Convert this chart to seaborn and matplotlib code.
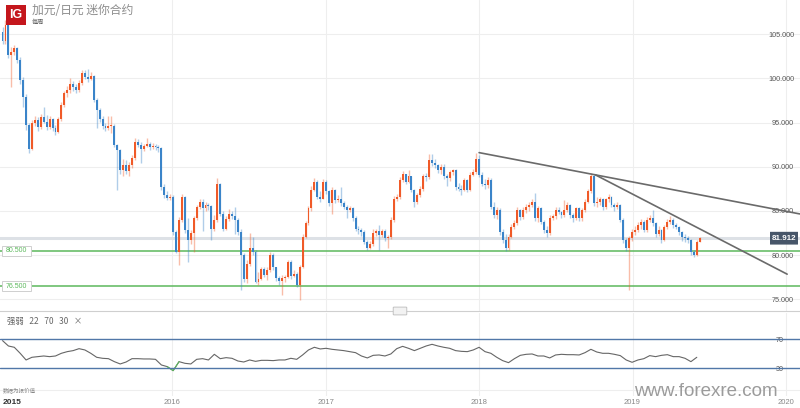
import numpy as np
import pandas as pd
import matplotlib
matplotlib.use('Agg')
import matplotlib.pyplot as plt
import matplotlib.dates as mdates
import matplotlib.transforms as mtransforms
from matplotlib.patches import Rectangle, FancyBboxPatch
import seaborn as sns

# weekly CAD/JPY candles (open = previous close)
week_start = '2014-11-24'
first_open = 105.3
close = [104.2, 106.0, 102.6, 103.0, 103.4, 102.1, 99.8, 97.9, 94.7, 92.0,
         94.9, 95.3, 94.5, 95.6, 95.1, 94.5, 95.4, 94.4, 93.9, 95.4,
         97.0, 98.3, 98.7, 99.4, 99.0, 98.7, 99.5, 100.6, 100.2, 99.9,
         100.3, 97.6, 96.4, 95.4, 94.6, 94.4, 94.6, 94.6, 92.5, 91.9,
         89.6, 90.2, 89.5, 90.2, 91.0, 92.8, 92.5, 92.0, 92.4, 92.6,
         92.2, 92.4, 92.2, 92.1, 87.7, 86.8, 86.5, 86.6, 82.6, 80.4,
         84.0, 86.6, 82.8, 81.7, 82.5, 84.2, 85.4, 86.0, 85.3, 85.7,
         85.6, 83.0, 84.0, 88.1, 84.7, 83.0, 84.1, 84.7, 84.4, 84.0,
         82.6, 80.0, 77.3, 79.0, 80.8, 80.3, 77.0, 77.3, 78.4, 77.8,
         78.3, 80.0, 78.6, 77.4, 77.1, 77.4, 77.5, 79.2, 77.6, 77.9,
         76.6, 78.7, 82.1, 83.6, 85.3, 87.4, 88.3, 86.6, 86.4, 88.3,
         87.2, 85.9, 87.4, 86.2, 86.4, 85.9, 85.5, 85.1, 85.3, 84.2,
         83.0, 82.8, 82.6, 81.5, 80.8, 81.2, 82.5, 82.7, 82.3, 82.7,
         81.9, 82.0, 84.0, 86.4, 86.6, 88.5, 89.2, 88.3, 88.9, 87.4,
         86.0, 86.8, 87.5, 88.9, 88.8, 90.8, 90.4, 90.2, 89.6, 90.0,
         88.9, 88.7, 89.4, 89.6, 87.7, 87.5, 87.4, 88.5, 87.4, 89.1,
         89.4, 90.9, 89.1, 88.1, 87.9, 88.5, 85.5, 84.5, 85.1, 82.6,
         81.7, 80.8, 82.1, 83.2, 83.6, 85.1, 84.3, 85.1, 85.5, 85.7,
         86.0, 84.2, 85.3, 83.8, 82.8, 82.5, 84.2, 84.4, 85.1, 84.9,
         84.5, 85.1, 85.7, 84.5, 84.2, 85.3, 84.2, 85.1, 86.0, 87.2,
         88.9, 85.9, 86.0, 86.3, 85.4, 86.3, 86.6, 85.7, 85.4, 85.7,
         84.0, 81.7, 80.8, 81.9, 82.6, 82.8, 83.4, 83.8, 82.8, 84.0,
         84.2, 83.6, 82.4, 82.8, 81.7, 83.2, 83.8, 84.0, 83.4, 83.2,
         82.6, 82.0, 81.9, 81.7, 80.3, 80.0, 81.5, 81.9]
high = [105.8, 106.6, 106.3, 103.6, 103.8, 103.6, 102.4, 100.2, 98.2, 95.0,
        95.3, 95.8, 95.6, 96.0, 96.8, 95.9, 95.8, 95.5, 94.7, 95.6,
        97.3, 98.6, 99.1, 100.0, 99.7, 99.4, 99.8, 101.0, 100.9, 101.1,
        100.7, 100.4, 97.8, 96.6, 95.8, 95.0, 95.7, 95.8, 94.8, 92.6,
        92.0, 90.9, 90.8, 90.5, 91.3, 93.2, 93.1, 92.8, 92.6, 93.2,
        92.8, 92.7, 92.6, 92.5, 92.2, 88.0, 87.2, 86.9, 86.8, 82.8,
        84.3, 86.9, 86.7, 84.2, 82.8, 84.4, 85.7, 86.3, 86.4, 86.0,
        85.9, 85.7, 84.5, 88.7, 88.2, 85.0, 84.4, 85.2, 85.0, 85.4,
        84.2, 83.0, 80.2, 79.4, 82.5, 82.1, 80.6, 78.1, 78.6, 78.6,
        78.6, 80.3, 80.2, 78.7, 77.6, 77.8, 77.8, 79.4, 79.5, 78.3,
        78.1, 78.9, 82.4, 83.9, 85.6, 87.8, 88.7, 88.5, 87.3, 88.6,
        88.5, 87.4, 87.7, 87.5, 86.8, 87.7, 86.1, 85.7, 85.6, 85.4,
        84.4, 83.3, 83.1, 82.8, 81.7, 81.6, 82.9, 83.0, 83.4, 83.0,
        82.9, 82.3, 84.3, 86.7, 86.9, 88.8, 89.5, 89.2, 89.6, 89.0,
        87.5, 87.0, 87.8, 89.2, 89.3, 91.5, 91.4, 90.9, 90.3, 90.3,
        90.3, 89.2, 89.6, 89.8, 89.7, 88.2, 87.9, 88.7, 88.6, 89.4,
        89.7, 91.6, 91.3, 89.4, 88.6, 88.8, 88.7, 86.0, 85.5, 85.3,
        82.9, 82.4, 82.4, 83.5, 84.0, 85.4, 85.2, 85.4, 85.8, 86.0,
        86.3, 87.0, 85.6, 85.4, 84.0, 83.3, 84.5, 84.7, 85.4, 85.5,
        85.0, 86.2, 86.0, 85.8, 84.8, 85.5, 85.5, 85.3, 86.3, 87.5,
        89.3, 89.1, 86.6, 86.6, 86.5, 86.5, 86.9, 86.7, 85.9, 86.0,
        85.8, 84.2, 81.9, 82.2, 82.9, 83.3, 83.7, 84.1, 84.0, 84.3,
        84.5, 85.1, 83.8, 83.3, 83.0, 83.4, 84.1, 84.4, 84.2, 83.6,
        83.3, 82.7, 82.4, 82.2, 81.8, 80.6, 81.7, 82.0]
low = [103.9, 103.9, 102.3, 99.0, 102.6, 101.8, 99.4, 96.8, 94.2, 91.6,
       91.9, 94.6, 94.1, 94.3, 94.9, 94.2, 94.3, 94.1, 93.6, 93.8,
       95.2, 96.8, 97.9, 98.4, 98.6, 98.3, 98.5, 99.3, 99.9, 99.6,
       99.8, 97.3, 94.4, 95.1, 94.3, 94.1, 94.2, 93.8, 92.2, 87.4,
       89.2, 89.0, 89.2, 88.9, 89.9, 90.8, 92.2, 90.4, 91.8, 92.2,
       91.9, 92.0, 91.9, 91.7, 87.4, 86.5, 86.2, 86.2, 82.3, 80.2,
       78.9, 83.8, 82.5, 79.2, 81.3, 80.4, 84.0, 85.2, 82.7, 85.0,
       85.1, 81.7, 82.7, 83.8, 84.4, 82.7, 82.8, 83.9, 84.1, 82.4,
       82.3, 76.0, 76.9, 76.8, 78.8, 80.0, 76.8, 76.6, 77.2, 77.5,
       77.2, 78.1, 78.3, 77.1, 76.6, 75.5, 77.0, 77.4, 77.3, 77.5,
       76.4, 74.9, 78.5, 81.9, 83.4, 85.0, 87.2, 86.3, 86.0, 86.3,
       86.9, 85.6, 84.7, 85.9, 86.0, 85.6, 85.2, 84.2, 84.9, 83.9,
       82.7, 82.4, 82.2, 81.2, 80.6, 80.7, 81.0, 82.2, 80.6, 82.0,
       81.6, 80.8, 81.8, 83.7, 86.1, 86.3, 88.3, 88.0, 88.2, 87.1,
       85.5, 85.8, 86.6, 87.3, 88.4, 88.6, 90.1, 89.9, 89.3, 89.2,
       88.6, 87.8, 88.4, 89.1, 87.4, 87.3, 86.8, 87.2, 87.1, 87.2,
       88.9, 89.2, 88.8, 87.8, 87.5, 87.6, 85.2, 84.2, 84.1, 82.3,
       81.4, 80.5, 80.6, 81.9, 82.9, 83.4, 84.0, 84.1, 84.8, 85.0,
       85.4, 83.9, 83.7, 83.5, 82.5, 82.1, 82.3, 84.0, 84.1, 84.6,
       84.2, 84.3, 84.9, 84.2, 83.8, 84.0, 83.9, 83.9, 84.9, 85.9,
       87.0, 85.6, 85.4, 85.7, 85.1, 85.2, 86.0, 85.4, 85.0, 85.2,
       83.8, 81.4, 80.5, 76.0, 81.6, 82.3, 82.6, 82.9, 82.6, 82.6,
       83.7, 83.3, 82.1, 82.2, 81.4, 81.6, 83.0, 83.5, 83.1, 82.9,
       82.3, 81.6, 81.5, 81.4, 80.0, 79.8, 79.9, 81.5]

# RSI(22) read every second week
rsi_values = [68.2, 60.8, 59.0, 50.7, 41.5, 45.2, 46.1, 47.0, 46.1, 47.0,
              50.7, 53.0, 54.4, 57.1, 55.3, 50.7, 45.2, 43.8, 43.3, 39.2,
              36.0, 38.7, 43.3, 43.3, 42.9, 42.9, 42.4, 34.6, 32.3, 26.8,
              39.2, 36.9, 36.0, 42.4, 43.3, 41.5, 49.3, 43.3, 44.7, 43.8,
              40.1, 38.7, 41.5, 39.6, 41.0, 41.0, 40.6, 41.5, 41.5, 43.8,
              42.4, 48.4, 55.3, 59.0, 56.7, 57.6, 56.2, 55.3, 54.4, 53.0,
              51.6, 47.0, 44.3, 47.9, 48.4, 47.0, 49.8, 57.1, 60.3, 57.6,
              54.4, 57.6, 60.8, 63.1, 60.8, 59.0, 57.6, 54.4, 53.4, 53.0,
              55.3, 59.0, 53.0, 50.7, 45.2, 40.6, 37.8, 43.3, 47.9, 49.3,
              49.8, 47.0, 47.0, 44.3, 48.4, 49.3, 48.8, 48.8, 48.4, 51.6,
              56.2, 52.5, 50.7, 50.7, 49.3, 47.5, 41.5, 38.3, 41.5, 43.3,
              47.5, 46.1, 47.9, 48.8, 46.1, 46.1, 43.8, 39.2, 45.2]

support_levels = [80.5, 76.5]
last_price = 81.912
trend_lines = [(('2018-01-01', 91.6), ('2020-02-03', 84.66)),
               (('2018-10-04', 89.1), ('2020-01-04', 77.84))]
price_ticks = [75, 80, 85, 90, 95, 100, 105]
year_labels = ['2016', '2017', '2018', '2019', '2020']
rsi_levels = [70, 30]

up_color = '#f05a28'
down_color = '#3a84c9'

sns.set_theme(style='white')
plt.rcParams['font.family'] = ['Liberation Sans', 'Noto Sans CJK SC', 'DejaVu Sans']
cjk = ['Noto Sans CJK SC', 'DejaVu Sans']

df = pd.DataFrame({'close': close, 'high': high, 'low': low})
df['date'] = pd.date_range(week_start, periods=len(df), freq='7D')
df['open'] = [first_open] + close[:-1]
df['high'] = df[['high', 'open', 'close']].max(axis=1)
df['low'] = df[['low', 'open', 'close']].min(axis=1)
df['up'] = df['close'] >= df['open']

rsi = pd.DataFrame({'date': pd.date_range(week_start, periods=len(rsi_values), freq='14D'),
                    'rsi': rsi_values})

W, H = 800, 408
fig = plt.figure(figsize=(8, 4.08), dpi=100)


def fy(py):
    return 1 - py / H


ax = fig.add_axes([0, fy(311), 1, fy(0) - fy(311)])
ax_rsi = fig.add_axes([0, fy(396), 1, fy(313) - fy(396)])

px_per_day = 153.5 / 365.25
x_left = mdates.date2num(pd.Timestamp('2015-01-01')) - 18.5 / px_per_day
x_right = x_left + W / px_per_day
year_nums = [mdates.date2num(pd.Timestamp(y + '-01-01')) for y in year_labels]

# candles
x = mdates.date2num(df['date'].values)
colors = np.where(df['up'], up_color, down_color)
ax.vlines(x, df['low'], df['high'], colors=colors, alpha=0.4, linewidth=1.0, zorder=3)
body_bottom = np.minimum(df['open'], df['close'])
body_h = np.maximum((df['close'] - df['open']).abs(), 0.12)
ax.bar(x, body_h, bottom=body_bottom, width=4.6, color=colors, linewidth=0, zorder=4)

# level lines
ax.axhline(last_price, color='#dde1e6', lw=2.2, zorder=1)
for lvl in support_levels:
    ax.axhline(lvl, color='#5cb85c', lw=1.1, zorder=2)

for (d1, p1), (d2, p2) in trend_lines:
    ax.plot([mdates.date2num(pd.Timestamp(d1)), mdates.date2num(pd.Timestamp(d2))], [p1, p2],
            color='#6a6a6a', lw=1.2, zorder=5, solid_capstyle='round')

blend = mtransforms.blended_transform_factory(ax.transAxes, ax.transData)
for lvl in support_levels:
    ax.add_patch(Rectangle((0.002, lvl - 0.57), 0.037, 1.14, transform=blend,
                           facecolor='white', edgecolor='#cfcfcf', lw=0.7, zorder=6))
    ax.text(0.0205, lvl, f'{lvl:.3f}', transform=blend, ha='center', va='center',
            fontsize=5, color='#5cb85c', zorder=7)

ax.add_patch(FancyBboxPatch((0.9645, last_price - 0.72), 0.031, 1.44, transform=blend,
                            boxstyle='round,pad=0.002,rounding_size=0.004',
                            facecolor='#475669', edgecolor='none', zorder=6))
ax.text(0.98, last_price - 0.05, f'{last_price:.3f}', transform=blend, ha='center', va='center',
        fontsize=5.8, color='white', weight='bold', zorder=7)

ax.set_xlim(x_left, x_right)
ax.set_ylim(73.67, 108.88)
ax.set_xticks(year_nums)
ax.set_yticks(price_ticks, labels=[f'{p:.3f}' for p in price_ticks], ha='right')
ax.yaxis.tick_right()
ax.tick_params(axis='y', length=0, pad=-4.3, labelsize=5.2, labelcolor='#555555')
ax.tick_params(axis='x', length=0, labelbottom=False)
ax.grid(True, color='#eeeeee', lw=0.8)
ax.set_axisbelow(True)
for s in ['top', 'left', 'right']:
    ax.spines[s].set_visible(False)
ax.spines['bottom'].set_color('#cfcfcf')
ax.spines['bottom'].set_linewidth(0.8)

# RSI panel
sns.lineplot(data=rsi, x='date', y='rsi', ax=ax_rsi, color='#666666', lw=0.8)
low_mask = rsi['rsi'] < 30
near = low_mask | low_mask.shift(1, fill_value=False) | low_mask.shift(-1, fill_value=False)
ax_rsi.plot(mdates.date2num(rsi.loc[near, 'date'].values), rsi.loc[near, 'rsi'],
            color='#5cb85c', lw=0.8)
for lvl in rsi_levels:
    ax_rsi.axhline(lvl, color='#5177a8', lw=1.0)
ax_rsi.axhline(0, color='#eeeeee', lw=0.8)

ax_rsi.set_xlim(x_left, x_right)
ax_rsi.set_ylim(-8.2, 106.3)
ax_rsi.set_xticks(year_nums, labels=year_labels)
ax_rsi.set_yticks(rsi_levels, labels=[str(v) for v in rsi_levels], ha='right')
ax_rsi.yaxis.tick_right()
ax_rsi.tick_params(axis='y', length=0, pad=-11.5, labelsize=5.2, labelcolor='#555555')
ax_rsi.tick_params(axis='x', length=0, pad=2.5, labelsize=5.5, labelcolor='#888888')
ax_rsi.grid(True, axis='x', color='#eeeeee', lw=0.8)
ax_rsi.set_axisbelow(True)
ax_rsi.set_xlabel('')
ax_rsi.set_ylabel('')
for s in ax_rsi.spines.values():
    s.set_visible(False)

# header, labels and watermark
fig.add_artist(Rectangle((6 / W, fy(25)), 20 / W, 20 / H, transform=fig.transFigure,
                         facecolor='#c4161c', edgecolor='none'))
fig.text(16 / W, fy(15.5), 'IG', color='white', fontsize=9, weight='bold', ha='center', va='center')
fig.text(32 / W, fy(11), '加元/日元 迷你合约', family=cjk, fontsize=8.5, color='#8c8c8c', va='center')
fig.text(32 / W, fy(22), '每周', family=cjk, fontsize=4.5, color='#666666', va='center')

fig.add_artist(FancyBboxPatch((394 / W, fy(314.5)), 12 / W, 7 / H, transform=fig.transFigure,
                              boxstyle='round,pad=0.001', facecolor='#f2f2f2',
                              edgecolor='#bbbbbb', lw=0.6))
fig.text(7 / W, fy(321), '强弱   22   70   30   ×', family=cjk, fontsize=6, color='#666666', va='center')
fig.text(3 / W, fy(390), '数据为报价值', family=cjk, fontsize=4, color='#888888', va='center')
fig.text(3 / W, fy(402), '2015', fontsize=6, weight='bold', color='#333333', va='center')
fig.text(706 / W, fy(391.5), 'www.forexre.com', fontsize=13.5, color='#9b9b9b', ha='center', va='center')

fig.savefig('out.png', dpi=100)
